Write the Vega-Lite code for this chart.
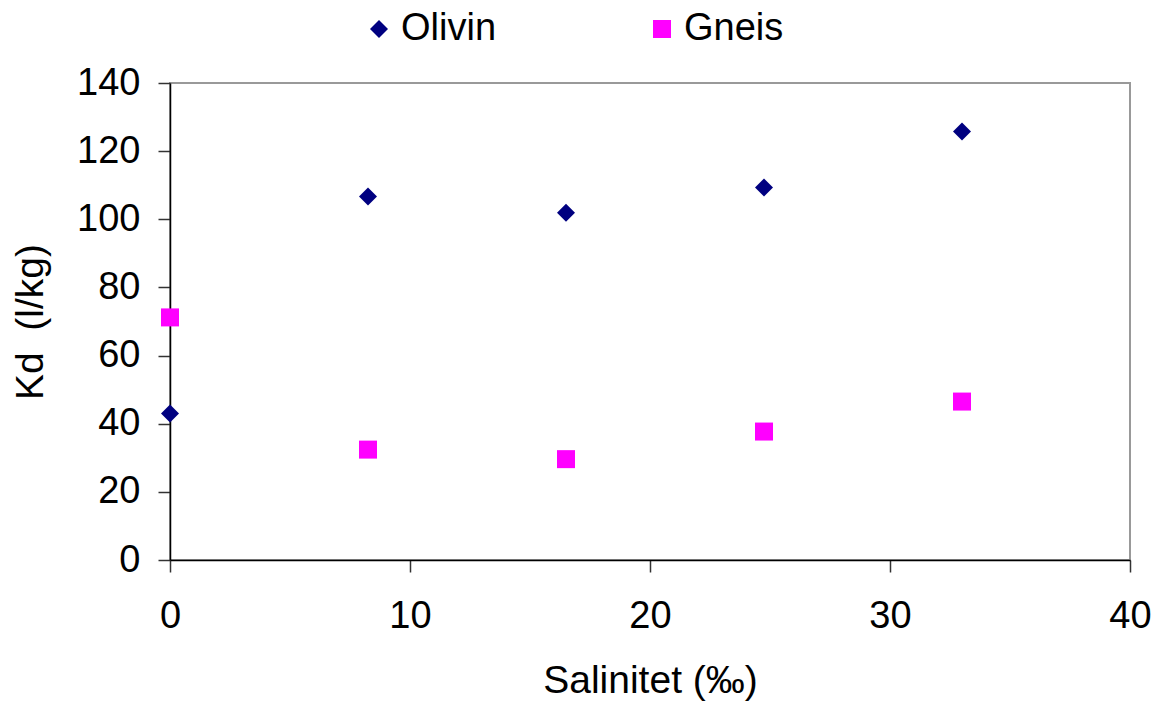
{
  "$schema": "https://vega.github.io/schema/vega-lite/v6.json",
  "autosize": "none",
  "width": 960,
  "height": 477,
  "padding": {"left": 170, "top": 83, "right": 25, "bottom": 143},
  "background": "white",
  "config": {
    "font": "Liberation Sans",
    "view": {"stroke": "#999999", "strokeWidth": 2},
    "axis": {
      "grid": false,
      "domainColor": "black",
      "domainWidth": 1.5,
      "tickColor": "#333333",
      "tickWidth": 1.5,
      "tickSize": 12,
      "labelFlush": false,
      "labelFont": "Liberation Sans",
      "labelFontSize": 38,
      "labelColor": "black",
      "titleFont": "Liberation Sans",
      "titleFontSize": 39,
      "titleFontWeight": "normal",
      "titleColor": "black"
    }
  },
  "data": {
    "values": [
      {"Salinitet": 0, "Kd": 43.0, "Material": "Olivin"},
      {"Salinitet": 8.25, "Kd": 106.7, "Material": "Olivin"},
      {"Salinitet": 16.5, "Kd": 101.9, "Material": "Olivin"},
      {"Salinitet": 24.75, "Kd": 109.3, "Material": "Olivin"},
      {"Salinitet": 33, "Kd": 125.8, "Material": "Olivin"},
      {"Salinitet": 0, "Kd": 71.2, "Material": "Gneis"},
      {"Salinitet": 8.25, "Kd": 32.4, "Material": "Gneis"},
      {"Salinitet": 16.5, "Kd": 29.6, "Material": "Gneis"},
      {"Salinitet": 24.75, "Kd": 37.7, "Material": "Gneis"},
      {"Salinitet": 33, "Kd": 46.5, "Material": "Gneis"}
    ]
  },
  "mark": {"type": "point", "filled": true, "size": 324, "opacity": 1},
  "encoding": {
    "x": {
      "field": "Salinitet",
      "type": "quantitative",
      "scale": {"domain": [0, 40], "nice": false},
      "axis": {"values": [0, 10, 20, 30, 40], "title": "Salinitet (‰)", "labelPadding": 25, "titlePadding": 26}
    },
    "y": {
      "field": "Kd",
      "type": "quantitative",
      "scale": {"domain": [0, 140], "nice": false},
      "axis": {"values": [0, 20, 40, 60, 80, 100, 120, 140], "title": "Kd\u00a0\u00a0(l/kg)", "labelPadding": 18, "titlePadding": 26}
    },
    "color": {
      "field": "Material",
      "type": "nominal",
      "scale": {"domain": ["Olivin", "Gneis"], "range": ["#000080", "#FF00FF"]},
      "legend": {
        "title": null,
        "orient": "none",
        "direction": "horizontal",
        "legendX": 190,
        "legendY": -73,
        "labelFontSize": 38,
        "labelFont": "Liberation Sans",
        "labelColor": "black",
        "symbolSize": 324,
        "labelOffset": 3,
        "columnPadding": 146,
        "symbolOpacity": 1
      }
    },
    "shape": {
      "field": "Material",
      "type": "nominal",
      "scale": {"domain": ["Olivin", "Gneis"], "range": ["diamond", "square"]}
    }
  }
}
